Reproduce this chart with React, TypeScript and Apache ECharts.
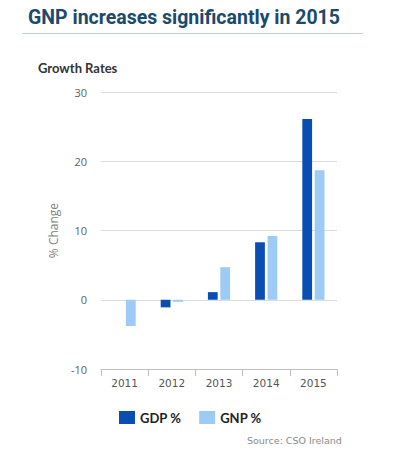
import React, { useEffect, useRef } from "react";
import * as echarts from "echarts";

const years = ["2011", "2012", "2013", "2014", "2015"];
const gdp = [null, -1.1, 1.1, 8.3, 26.1];
const gnp = [-3.8, -0.3, 4.7, 9.2, 18.7];
const yTicks = { min: -10, max: 30, interval: 10 };

export default function App() {
  const ref = useRef<HTMLDivElement>(null);
  useEffect(() => {
    const chart = echarts.init(ref.current!, null, { renderer: "svg" });
    chart.setOption({
      animation: false,
      backgroundColor: "#ffffff",
      title: [
        {
          text: "GNP increases significantly in 2015",
          left: 23,
          top: 2,
          textStyle: { fontFamily: "Roboto", fontWeight: "bold", fontSize: 19.5, color: "#1b4a6c" },
        },
        {
          text: "Growth Rates",
          left: 33,
          top: 56,
          textStyle: { fontFamily: "Lato", fontWeight: "bold", fontSize: 13, color: "#333333" },
        },
      ],
      graphic: [
        {
          type: "line",
          shape: { x1: 22, y1: 33.5, x2: 363, y2: 33.5 },
          style: { stroke: "#c4ccd4", lineWidth: 1 },
        },
        {
          type: "text",
          left: 247,
          top: 435,
          style: {
            text: "Source: CSO Ireland",
            fill: "#8a8a8a",
            font: "9.5px 'DejaVu Sans'",
          },
        },
      ],
      legend: {
        left: 114,
        top: 406,
        itemWidth: 16,
        itemHeight: 13,
        itemGap: 18,
        icon: "rect",
        textStyle: { fontFamily: "Lato", fontSize: 13, color: "#222222", fontWeight: "bold" },
        data: ["GDP %", "GNP %"],
      },
      grid: { left: 101, right: 62, top: 92, bottom: 98 },
      xAxis: {
        type: "category",
        data: years,
        axisLine: { onZero: false, lineStyle: { color: "#c0c0c0" } },
        axisTick: { show: true, length: 7, lineStyle: { color: "#c0c0c0" } },
        axisLabel: { color: "#555555", fontSize: 10.5, fontFamily: "DejaVu Sans", margin: 8 },
        splitLine: { show: false },
      },
      yAxis: {
        type: "value",
        min: yTicks.min,
        max: yTicks.max,
        interval: yTicks.interval,
        name: "% Change",
        nameLocation: "middle",
        nameGap: 42,
        nameTextStyle: { color: "#808080", fontSize: 12, fontFamily: "Open Sans" },
        axisLine: { show: false },
        axisTick: { show: false },
        axisLabel: { color: "#606060", fontSize: 11, fontFamily: "Open Sans", margin: 14 },
        splitLine: { lineStyle: { color: "#dcdcdc" } },
      },
      series: [
        {
          name: "GDP %",
          type: "bar",
          data: gdp,
          itemStyle: { color: "#0a4eb3" },
          barGap: "27%",
          barCategoryGap: "53%",
        },
        {
          name: "GNP %",
          type: "bar",
          data: gnp,
          itemStyle: { color: "#9dcbf5" },
        },
      ],
    });
    return () => chart.dispose();
  }, []);
  return <div ref={ref} style={{ width: 399, height: 467, position: "absolute", left: 0, top: 0 }} />;
}
